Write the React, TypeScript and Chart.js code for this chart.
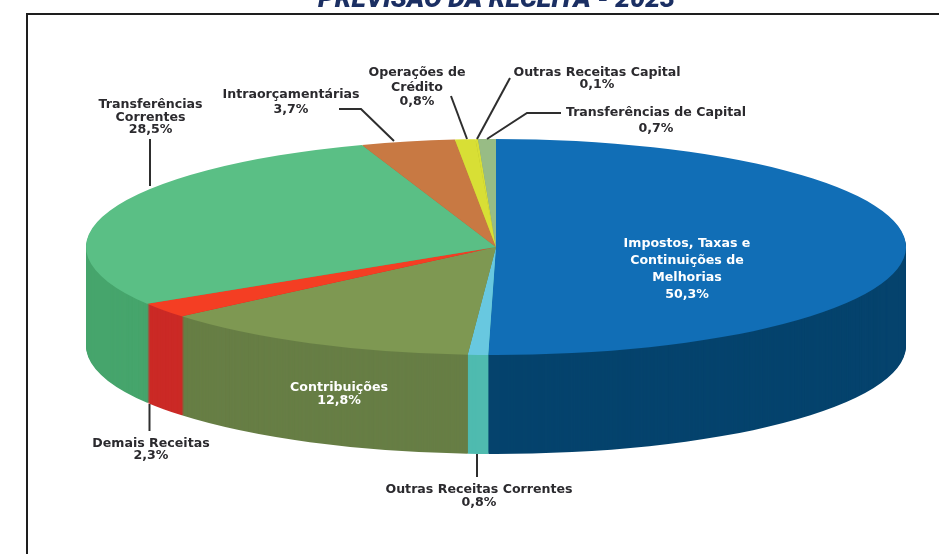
import React, { useEffect, useRef } from "react";
import { Chart, registerables } from "chart.js";

Chart.register(...registerables);

const TITLE = "PREVISÃO DA RECEITA - 2023";
const categories = [
  "Impostos, Taxas e Continuições de Melhorias",
  "Outras Receitas Correntes",
  "Contribuições",
  "Demais Receitas",
  "Transferências Correntes",
  "Intraorçamentárias",
  "Operações de Crédito",
  "Outras Receitas Capital",
  "Transferências de Capital",
];
const shares = [50.3, 0.8, 12.8, 2.3, 28.5, 3.7, 0.8, 0.1, 0.7];
const topColors = ["#116EB6", "#68C8E0", "#7E9852", "#F43E23", "#5ABF85", "#C87943", "#D8DF35", "#D8DF35", "#98BC85"];
const sideColors = ["#05436D", "#4FBBAF", "#677E45", "#CB2A26", "#46A56C", "#A86236", "#B5BB2C", "#B5BB2C", "#7F9E6F"];

const CENTER_X = 496;
const CENTER_Y = 247;
const RADIUS_X = 410;
const RADIUS_Y = 108;
const DEPTH = 99;

const INK = "#2B2A2E";
const LABEL_FONT = 'bold 12.6px "DejaVu Sans"';

const labelLines: string[][] = [
  ["Impostos, Taxas e", "Continuições de", "Melhorias", "50,3%"],
  ["Outras Receitas Correntes", "0,8%"],
  ["Contribuições", "12,8%"],
  ["Demais Receitas", "2,3%"],
  ["Transferências", "Correntes", "28,5%"],
  ["Intraorçamentárias", "3,7%"],
  ["Operações de", "Crédito", "0,8%"],
  ["Outras Receitas Capital", "0,1%"],
  ["Transferências de Capital", "0,7%"],
];
const labelX = [687, 479, 339, 151, 150.5, 291, 417, 597, 656];
const labelY = [
  [244, 261, 278, 295],
  [490, 503],
  [388, 401],
  [444, 456],
  [105, 118, 130],
  [95, 110],
  [73, 88, 102],
  [73, 85],
  [113, 129],
];
const labelInk = ["#FFFFFF", INK, "#FFFFFF", INK, INK, INK, INK, INK, INK];

const leaders: [number, number][][] = [
  [],
  [[477, 454], [477, 477]],
  [],
  [[149.5, 404], [149.5, 431]],
  [[150, 139], [150, 186]],
  [[339, 109], [361, 109], [394, 141]],
  [[451, 96], [467, 139]],
  [[510, 78], [477, 139]],
  [[561, 113], [527, 113], [487, 139]],
];

function squash(ctx: CanvasRenderingContext2D, el: any, dy: number) {
  ctx.translate(CENTER_X, CENTER_Y + dy);
  ctx.scale(RADIUS_X / el.outerRadius, RADIUS_Y / el.outerRadius);
  ctx.translate(-el.x, -el.y);
}

const pie3d = {
  id: "pie3d",
  beforeDraw(chart: any) {
    const { ctx } = chart;
    ctx.save();
    ctx.fillStyle = "#FFFFFF";
    ctx.fillRect(0, 0, chart.width, chart.height);
    ctx.strokeStyle = "#1E1E1E";
    ctx.lineWidth = 2;
    ctx.beginPath();
    ctx.moveTo(27, chart.height + 2);
    ctx.lineTo(27, 14);
    ctx.lineTo(chart.width + 2, 14);
    ctx.stroke();
    ctx.fillStyle = "#1B2F63";
    ctx.font = "italic 900 26.5px Roboto";
    ctx.textAlign = "center";
    ctx.textBaseline = "alphabetic";
    ctx.fillText(TITLE, 496.5, 7);
    ctx.restore();
  },
  beforeDatasetDraw(chart: any, args: any) {
    const { ctx } = chart;
    const arcs = args.meta.data;
    for (let d = DEPTH; d >= 1; d--) {
      arcs.forEach((el: any, i: number) => {
        const saved = el.options;
        el.options = {
          backgroundColor: sideColors[i],
          borderColor: sideColors[i],
          borderWidth: 0,
          borderAlign: "center",
          borderJoinStyle: "round",
          borderRadius: 0,
          borderDash: [],
          borderDashOffset: 0,
          spacing: 0,
          offset: 0,
          circular: true,
          selfJoin: false,
        };
        ctx.save();
        squash(ctx, el, d);
        el.draw(ctx);
        ctx.restore();
        el.options = saved;
      });
    }
    ctx.save();
    squash(ctx, arcs[0], 0);
  },
  afterDatasetDraw(chart: any) {
    chart.ctx.restore();
  },
  afterDraw(chart: any) {
    const { ctx } = chart;
    ctx.save();
    ctx.strokeStyle = "#2E2E2E";
    ctx.lineWidth = 2;
    leaders.forEach((pts) => {
      if (!pts.length) return;
      ctx.beginPath();
      pts.forEach(([x, y], i) => (i ? ctx.lineTo(x, y) : ctx.moveTo(x, y)));
      ctx.stroke();
    });
    ctx.font = LABEL_FONT;
    ctx.textAlign = "center";
    ctx.textBaseline = "middle";
    labelLines.forEach((lines, i) => {
      ctx.fillStyle = labelInk[i];
      lines.forEach((line, j) => ctx.fillText(line, labelX[i], labelY[i][j]));
    });
    ctx.restore();
  },
};

export default function App() {
  const ref = useRef<HTMLCanvasElement>(null);
  useEffect(() => {
    const chart = new Chart(ref.current!, {
      type: "pie",
      data: {
        labels: categories,
        datasets: [
          {
            data: shares,
            backgroundColor: topColors,
            borderWidth: 0,
            clip: false,
          } as any,
        ],
      },
      options: {
        animation: false,
        responsive: false,
        devicePixelRatio: 1,
        layout: { padding: 0 },
        plugins: { legend: { display: false }, tooltip: { enabled: false }, title: { display: false } },
      },
      plugins: [pie3d as any],
    });
    return () => chart.destroy();
  }, []);
  return (
    <div style={{ position: "absolute", left: 0, top: 0, width: 939, height: 554, overflow: "hidden" }}>
      <canvas ref={ref} width={939} height={554} style={{ display: "block" }} />
    </div>
  );
}
